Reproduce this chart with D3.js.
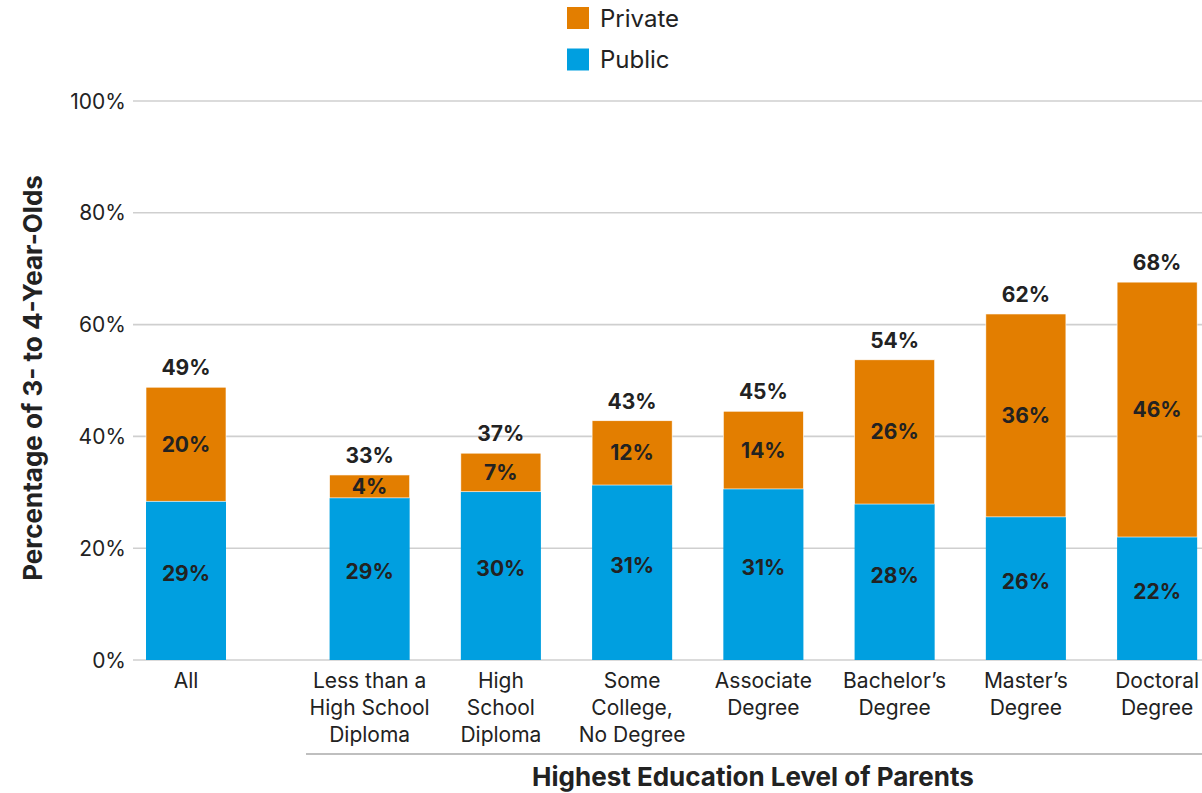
<!DOCTYPE html>
<html>
<head>
<meta charset="utf-8">
<script src="https://cdn.jsdelivr.net/npm/d3@7"></script>
<style>
  html, body { margin: 0; padding: 0; background: #fff; }
  svg { display: block; font-family: Inter, "Noto Sans", sans-serif; }
</style>
</head>
<body>
<svg id="chart" width="1202" height="793"></svg>
<script>
// ---- data ----
const allCategory = ["All"];
const eduCategories = [
  ["Less than a", "High School", "Diploma"],
  ["High", "School", "Diploma"],
  ["Some", "College,", "No Degree"],
  ["Associate", "Degree"],
  ["Bachelor\u2019s", "Degree"],
  ["Master\u2019s", "Degree"],
  ["Doctoral", "Degree"]
];
const categoryKeys = ["All", "LessHS", "HS", "SomeCollege", "Associate", "Bachelor", "Master", "Doctoral"];
const publicValues  = [28.4, 29.0, 30.1, 31.3, 30.6, 27.9, 25.6, 22.0];
const privateValues = [20.4, 4.1, 6.9, 11.5, 13.9, 25.8, 36.3, 45.6];
const publicLabels  = ["29%", "29%", "30%", "31%", "31%", "28%", "26%", "22%"];
const privateLabels = ["20%", "4%", "7%", "12%", "14%", "26%", "36%", "46%"];
const totalLabels   = ["49%", "33%", "37%", "43%", "45%", "54%", "62%", "68%"];
const yTicks = [0, 20, 40, 60, 80, 100];
const seriesNames = ["Private", "Public"];
const colors = { Private: "#E37E00", Public: "#009FE0" };

// ---- layout ----
const svg = d3.select("#chart");
const y = d3.scaleLinear().domain([0, 100]).range([660, 101]);
const xAll = d3.scaleBand().domain(allCategory).range([146, 226]).padding(0);
const xEdu = d3.scaleBand().domain(categoryKeys.slice(1)).range([304, 304 + 7 * 131.25])
  .paddingInner(0.39).paddingOuter(0.195);
function bx(i) { return i === 0 ? xAll("All") : xEdu(categoryKeys[i]); }
function bw(i) { return i === 0 ? xAll.bandwidth() : xEdu.bandwidth(); }

const textColor = "#222";

// gridlines + tick labels
const gAxis = svg.append("g");
gAxis.selectAll("line.grid").data(yTicks).join("line")
  .attr("x1", 133).attr("x2", 1202)
  .attr("y1", d => y(d)).attr("y2", d => y(d))
  .attr("stroke", "#cfcfcf").attr("stroke-width", 1.6);
gAxis.selectAll("text.tick").data(yTicks).join("text")
  .attr("x", 126).attr("y", d => y(d)).attr("dy", "0.36em")
  .attr("text-anchor", "end").attr("font-size", 21).attr("fill", textColor)
  .text(d => d + "%");

// bars
const data = categoryKeys.map((k, i) => ({
  i, pub: publicValues[i], priv: privateValues[i]
}));
const gBars = svg.append("g");
gBars.selectAll("rect.pub").data(data).join("rect")
  .attr("x", d => bx(d.i)).attr("width", d => bw(d.i))
  .attr("y", d => y(d.pub)).attr("height", d => y(0) - y(d.pub))
  .attr("fill", colors.Public);
gBars.selectAll("rect.priv").data(data).join("rect")
  .attr("x", d => bx(d.i)).attr("width", d => bw(d.i))
  .attr("y", d => y(d.pub + d.priv)).attr("height", d => y(d.pub) - y(d.pub + d.priv))
  .attr("fill", colors.Private)
  .attr("stroke", "#fff").attr("stroke-width", 0.6);

// value labels
const gLab = svg.append("g").attr("font-weight", 700).attr("font-size", 21)
  .attr("fill", textColor).attr("text-anchor", "middle");
gLab.selectAll("text.pub").data(data).join("text")
  .attr("x", d => bx(d.i) + bw(d.i) / 2)
  .attr("y", d => (y(0) + y(d.pub)) / 2 + 0.5)
  .text(d => publicLabels[d.i]);
gLab.selectAll("text.priv").data(data).join("text")
  .attr("x", d => bx(d.i) + bw(d.i) / 2)
  .attr("y", d => (y(d.pub) + y(d.pub + d.priv)) / 2).attr("dy", "0.36em")
  .text(d => privateLabels[d.i]);
gLab.selectAll("text.tot").data(data).join("text")
  .attr("x", d => bx(d.i) + bw(d.i) / 2)
  .attr("y", d => y(d.pub + d.priv) - 12)
  .text(d => totalLabels[d.i]);

// category labels
const gCat = svg.append("g").attr("font-size", 21).attr("fill", textColor).attr("text-anchor", "middle");
gCat.append("text").attr("x", xAll("All") + xAll.bandwidth() / 2).attr("y", 688).text("All");
eduCategories.forEach((lines, j) => {
  const t = gCat.append("text").attr("x", xEdu(categoryKeys[j + 1]) + xEdu.bandwidth() / 2).attr("y", 688);
  lines.forEach((ln, k) => t.append("tspan").attr("x", xEdu(categoryKeys[j + 1]) + xEdu.bandwidth() / 2)
    .attr("y", 688 + k * 27).text(ln));
});

// bracket line & x title
const r = xEdu.range();
svg.append("line").attr("x1", r[0] + 2).attr("x2", 1202).attr("y1", 754).attr("y2", 754)
  .attr("stroke", "#aaa").attr("stroke-width", 1.6);
svg.append("text").attr("x", (r[0] + 1202) / 2).attr("y", 786)
  .attr("text-anchor", "middle").attr("font-weight", 700).attr("font-size", 26)
  .attr("fill", textColor).text("Highest Education Level of Parents");

// y title
svg.append("text").attr("transform", "translate(42,378) rotate(-90)")
  .attr("text-anchor", "middle").attr("font-weight", 700).attr("font-size", 26)
  .attr("fill", textColor).text("Percentage of 3- to 4-Year-Olds");

// legend
const gLeg = svg.append("g");
seriesNames.forEach((s, k) => {
  gLeg.append("rect").attr("x", 567).attr("y", 7 + k * 41.5).attr("width", 22).attr("height", 22)
    .attr("fill", colors[s]);
  gLeg.append("text").attr("x", 600).attr("y", 18 + k * 41.5).attr("dy", "0.36em")
    .attr("font-size", 24).attr("fill", textColor).text(s);
});
</script>
</body>
</html>
